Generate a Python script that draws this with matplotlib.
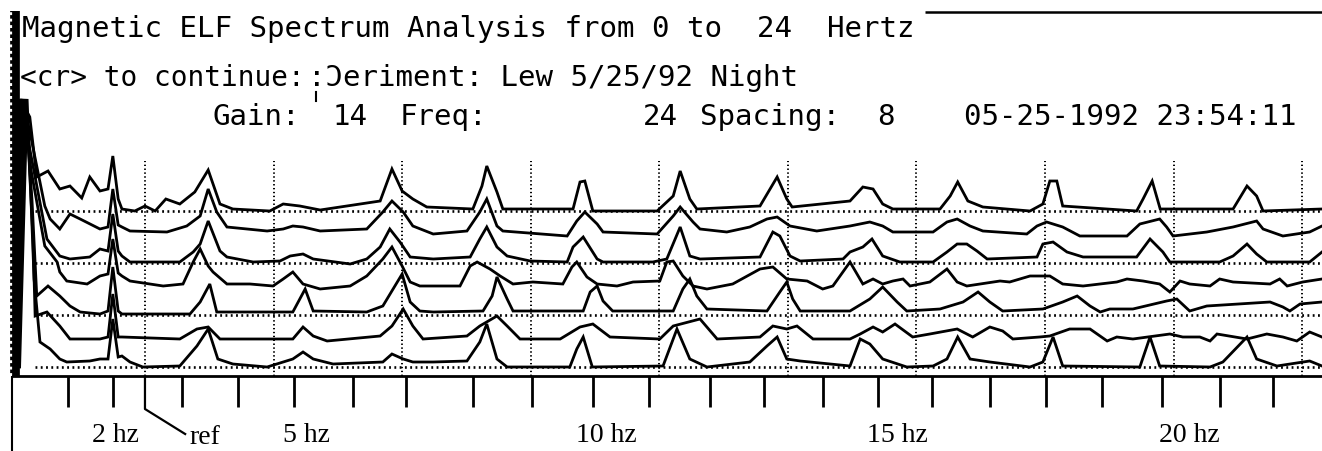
import matplotlib.pyplot as plt

# --- spectra, one list pair per sweep (top sweep first) ---
# frequency in Hz, amplitude in screen counts above the sweep's own baseline
s1_freq = [0.00, 0.07, 0.25, 0.38, 0.59, 0.81, 1.00, 1.22, 1.37, 1.56, 1.71, 1.80, 1.90, 1.97, 2.21, 2.40, 2.59,
           2.79, 3.05, 3.33, 3.58, 3.80, 4.04, 4.73, 4.98, 5.29, 5.67, 6.79, 7.01, 7.20, 7.40, 7.66, 8.52,
           8.69, 8.78, 8.97, 9.08, 10.39, 10.52, 10.61, 10.76, 11.96, 12.26, 12.39, 12.57, 12.70, 13.88,
           14.20, 14.38, 14.48, 15.56, 15.80, 15.99, 16.17, 16.36, 17.24, 17.43, 17.57, 17.76, 18.04, 18.92,
           19.16, 19.29, 19.42, 19.53, 20.91, 21.03, 21.20, 21.35, 22.71, 22.97, 23.15, 23.27, 24.37]
s1_amp = [0, 112, 94, 34, 40, 22, 25, 13, 34, 20, 22, 55, 12, 2, 0, 5, 0,
          12, 7, 19, 41, 7, 2, 0, 7, 5, 1, 10, 42, 20, 12, 4, 2,
          25, 45, 19, 2, 2, 29, 30, 0, 0, 15, 40, 12, 2, 5,
          34, 12, 4, 10, 24, 22, 7, 2, 2, 15, 29, 10, 4, 0,
          7, 30, 30, 5, 0, 12, 30, 2, 2, 25, 15, 0, 2]

s2_freq = [0.01, 0.10, 0.24, 0.53, 0.63, 0.81, 1.00, 1.19, 1.56, 1.71, 1.80, 1.90, 1.97, 2.12, 2.81, 3.18, 3.43,
           3.58, 3.74, 3.93, 4.68, 4.98, 5.16, 5.35, 5.67, 6.54, 6.84, 7.01, 7.22, 7.40, 7.78, 8.41, 8.65,
           8.78, 8.97, 9.08, 10.28, 10.46, 10.61, 10.84, 10.95, 11.96, 12.26, 12.39, 12.63, 12.76, 13.26,
           13.69, 14.01, 14.20, 14.44, 14.94, 15.56, 15.93, 16.17, 16.36, 17.11, 17.37, 17.56, 17.80, 18.04,
           18.86, 19.05, 19.23, 19.53, 19.85, 20.73, 20.97, 21.34, 21.47, 21.59, 22.22, 22.71, 23.15, 23.27,
           23.64, 24.14, 24.37]
s2_amp = [0, 138, 108, 31, 18, 8, 23, 18, 8, 10, 48, 12, 10, 6, 5, 11, 21,
          48, 25, 10, 6, 8, 11, 10, 6, 8, 25, 36, 25, 11, 3, 6, 25,
          38, 11, 6, 1, 16, 25, 13, 5, 3, 21, 30, 15, 8, 5,
          10, 18, 20, 11, 6, 11, 15, 11, 5, 5, 15, 18, 11, 6,
          3, 11, 15, 10, 1, 1, 13, 18, 10, 1, 5, 10, 16, 8,
          1, 5, 11]

s3_freq = [0.02, 0.12, 0.25, 0.57, 0.81, 1.00, 1.37, 1.56, 1.71, 1.80, 1.90, 1.97, 2.12, 3.05, 3.30, 3.43, 3.58,
           3.80, 3.93, 4.42, 4.92, 5.11, 5.35, 5.54, 6.23, 6.54, 6.79, 6.97, 7.16, 7.35, 7.78, 8.47, 8.65,
           8.78, 8.97, 9.16, 9.59, 10.28, 10.39, 10.58, 10.84, 10.95, 11.88, 12.14, 12.39, 12.57, 12.76,
           13.88, 14.12, 14.25, 14.44, 14.63, 15.43, 15.56, 15.80, 15.97, 16.17, 16.49, 17.11, 17.37, 17.56,
           17.74, 17.93, 18.12, 19.05, 19.16, 19.35, 19.61, 19.91, 20.91, 21.16, 21.40, 21.53, 22.46, 22.71,
           22.97, 23.15, 23.34, 24.14, 24.37]
s3_amp = [0, 164, 114, 24, 7, 4, 6, 14, 12, 49, 12, 7, 1, 1, 11, 19, 42,
          12, 6, 1, 2, 7, 9, 4, -1, 4, 16, 34, 21, 6, 4, 6, 24,
          36, 16, 7, 2, 1, 16, 26, 4, 1, 1, 4, 36, 7, 4,
          6, 31, 27, 7, 2, 4, 11, 16, 24, 7, 1, 1, 11, 19,
          19, 12, 4, 6, 19, 21, 11, 6, 6, 24, 11, 1, 1, 7,
          19, 9, 1, 1, 11]

s4_freq = [0.03, 0.14, 0.27, 0.53, 0.76, 0.81, 0.94, 1.32, 1.56, 1.71, 1.80, 1.90, 1.97, 2.12, 2.74, 3.11, 3.30,
           3.43, 3.58, 3.67, 3.93, 4.36, 4.79, 4.98, 5.16, 5.35, 5.67, 6.23, 6.54, 6.84, 7.01, 7.20, 7.35,
           7.53, 8.28, 8.47, 8.60, 8.84, 9.03, 9.27, 9.64, 10.20, 10.37, 10.46, 10.65, 10.84, 11.21, 11.51,
           12.01, 12.14, 12.26, 12.44, 12.63, 12.89, 13.37, 13.88, 14.12, 14.38, 14.76, 15.05, 15.24, 15.56,
           15.80, 15.99, 16.17, 16.36, 16.55, 16.68, 17.05, 17.37, 17.56, 17.74, 18.36, 18.54, 18.92, 19.29,
           19.53, 19.91, 20.54, 20.73, 21.03, 21.34, 21.53, 21.72, 21.90, 22.28, 22.46, 22.71, 23.40, 23.58,
           23.72, 24.01, 24.37]
s4_amp = [0, 190, 120, 43, 27, 17, 8, 5, 13, 15, 50, 16, 13, 8, 3, 5, 27,
          40, 23, 17, 5, 5, 3, 10, 17, 5, 0, 3, 13, 30, 42, 23, 7,
          3, 3, 23, 27, 20, 13, 5, 7, 5, 22, 27, 12, 5, 3, 7,
          8, 27, 28, 13, 3, 0, 5, 20, 22, 10, 8, 0, 3, 27,
          5, 10, 5, 8, 10, 3, 7, 20, 7, 3, 8, 7, 13, 13,
          5, 3, 7, 10, 8, 5, -3, 8, 5, 3, 10, 7, 5, 10,
          3, 7, 10]

s5_freq = [0.04, 0.16, 0.29, 0.38, 0.59, 0.81, 1.00, 1.19, 1.56, 1.71, 1.80, 1.90, 1.97, 3.24, 3.43, 3.61, 3.74,
           5.16, 5.39, 5.54, 6.54, 6.84, 7.20, 7.35, 7.53, 7.78, 8.71, 8.88, 8.97, 9.16, 9.27, 10.58, 10.71,
           10.84, 10.95, 11.13, 12.26, 12.44, 12.57, 12.70, 12.89, 14.01, 14.25, 14.38, 14.49, 14.63, 15.56,
           15.93, 16.17, 16.44, 16.62, 17.24, 17.67, 17.95, 18.17, 18.41, 19.16, 19.53, 19.80, 20.04, 20.23,
           20.41, 20.84, 21.47, 21.66, 21.90, 22.22, 23.40, 23.64, 23.77, 23.96, 24.37]
s5_amp = [0, 216, 116, 19, 29, 19, 9, 3, 1, 4, 48, 4, 1, 1, 13, 31, 3,
          3, 26, 4, 3, 9, 41, 13, 4, 3, 4, 19, 38, 16, 4, 4, 23,
          29, 14, 4, 4, 26, 36, 19, 6, 4, 23, 33, 16, 4, 4,
          16, 28, 13, 4, 6, 13, 23, 13, 4, 6, 13, 19, 9, 3,
          6, 6, 14, 16, 4, 9, 13, 8, 4, 11, 13]

s6_freq = [0.05, 0.18, 0.31, 0.35, 0.57, 0.81, 1.00, 1.56, 1.71, 1.80, 1.90, 1.97, 3.05, 3.37, 3.58, 3.80, 5.16,
           5.35, 5.54, 5.80, 6.79, 7.01, 7.22, 7.40, 7.59, 8.41, 8.65, 8.97, 9.16, 9.40, 10.15, 10.52, 10.76,
           11.08, 12.01, 12.26, 12.76, 13.08, 13.88, 14.12, 14.38, 14.57, 14.87, 15.56, 15.75, 15.99, 16.17,
           16.40, 16.73, 17.05, 17.56, 17.85, 18.17, 18.41, 18.60, 19.10, 19.29, 19.66, 20.04, 20.36, 20.54,
           20.84, 21.53, 21.77, 22.09, 22.28, 22.41, 22.97, 23.34, 23.64, 23.90, 24.14, 24.37]
s6_amp = [0, 242, 102, 25, 29, 15, 2, 2, 4, 47, 4, 4, 2, 12, 14, 2, 2,
          14, 5, 0, 5, 15, 32, 15, 2, 5, 15, 25, 15, 2, 2, 14, 17,
          4, 2, 15, 22, 2, 4, 15, 12, 15, 2, 2, 7, 14, 9,
          17, 4, 7, 12, 4, 14, 10, 2, 4, 5, 12, 12, 0, 4,
          2, 7, 4, 4, 0, 7, 2, 7, 4, 0, 9, 4]

s7_freq = [0.06, 0.20, 0.33, 0.44, 0.63, 0.81, 0.94, 1.37, 1.56, 1.71, 1.80, 1.90, 1.97, 2.12, 2.36, 3.05, 3.37,
           3.58, 3.76, 4.04, 4.68, 5.16, 5.35, 5.54, 5.91, 6.84, 7.01, 7.22, 7.40, 7.78, 8.41, 8.65, 8.78,
           8.97, 9.16, 10.33, 10.46, 10.58, 10.75, 12.07, 12.33, 12.57, 12.89, 13.69, 14.01, 14.20, 14.38,
           14.63, 15.56, 15.75, 15.93, 16.17, 16.62, 17.11, 17.37, 17.57, 17.80, 18.17, 18.92, 19.16, 19.35,
           19.53, 20.97, 21.16, 21.34, 22.28, 22.52, 22.97, 23.15, 23.53, 24.14, 24.37]
s7_amp = [0, 268, 88, 25, 18, 8, 5, 6, 8, 8, 48, 10, 11, 5, 0, 1, 21,
          38, 8, 3, 0, 8, 15, 8, 3, 5, 13, 8, 5, 5, 6, 25, 43,
          8, 0, 0, 18, 30, 0, 1, 38, 8, 0, 5, 21, 30, 8,
          6, 1, 28, 23, 8, 0, 1, 8, 30, 8, 5, 0, 5, 30,
          1, 0, 30, 1, 0, 5, 30, 8, 1, 6, 1]

sweeps = [(s1_freq, s1_amp), (s2_freq, s2_amp), (s3_freq, s3_amp), (s4_freq, s4_amp),
          (s5_freq, s5_amp), (s6_freq, s6_amp), (s7_freq, s7_amp)]
sweep_offsets = [165, 139, 113, 87, 61, 35, 9]   # waterfall baselines, top to bottom

# dotted grid every 2.4 Hz (24 Hz / 10)
grid_freqs = [2.4, 4.8, 7.2, 9.6, 12.0, 14.4, 16.8, 19.2, 21.6, 24.0]

# hand-drawn ruler under the plot
ruler_ticks = [0.96, 1.80, 3.09, 4.14, 5.18, 6.28, 7.27, 8.52, 9.62, 10.76, 11.81, 12.95, 13.95,
               15.06, 16.08, 17.09, 18.17, 19.22, 20.26, 21.38, 22.47, 23.45]
ruler_labels = ['2 hz', '5 hz', '10 hz', '15 hz', '20 hz']
ruler_label_pos = [1.84, 5.42, 11.02, 16.44, 21.89]
ref_freq = 2.4

W, H = 1322, 452
fig = plt.figure(figsize=(W / 100, H / 100), dpi=100)
ax = fig.add_axes([0, 0, 1, 1])
ax.set_xlim(-0.306, 24.37)
ax.set_ylim(-75, 377)
ax.axis('off')

dots = (0, (0.7, 1.3))

# grid
ax.vlines(grid_freqs, 0, 215, colors='black', linestyles=dots, lw=1.4)
ax.hlines(sweep_offsets[0::2], 0.35, 24.37, colors='black', linestyles=dots, lw=1.9)

# spectra
for (f, a), off in zip(sweeps, sweep_offsets):
    ax.plot(f, [v + off for v in a], color='black', lw=2.0, solid_joinstyle='miter')

# frame: striped left bar, baseline, top line
ax.vlines(-0.02, 0, 365, colors='black', lw=7)
ax.vlines(-0.11, 0, 365, colors='white', lw=1.6, linestyles=(0, (1.3, 1.6)))
ax.hlines(0, -0.08, 24.37, colors='black', lw=2)
ax.vlines(-0.08, -75, 0, colors='black', lw=1.5)
ax.hlines(364, 16.96, 24.37, colors='black', lw=1.8)

# ruler
ax.vlines(ruler_ticks, -31, 0, colors='black', lw=2)
ax.plot([ref_freq, ref_freq, 3.15], [0, -33, -58], color='black', lw=1.6)
for lab, pos in zip(ruler_labels, ruler_label_pos):
    ax.text(pos, -65, lab, ha='center', va='baseline', family='Liberation Serif', fontsize=20)
ax.text(3.24, -67, 'ref', ha='left', va='baseline', family='Liberation Serif', fontsize=20)


# header text, placed in screen pixels
def put(x, y, s, size=21, **kw):
    fig.text(x / W, 1 - y / H, s, va='baseline', family='DejaVu Sans Mono', fontsize=size, **kw)


put(22, 37, 'Magnetic ELF Spectrum Analysis from 0 to  24  Hertz')
put(20, 86, '<cr> to continue:', size=20)
put(308, 86, ':\u0186eriment: Lew 5/25/92 Night')
put(213, 125, 'Gain:')
put(333, 125, '14')
put(400, 125, 'Freq:')
put(643, 125, '24')
put(700, 125, 'Spacing:')
put(877, 125, '8')
put(1297, 125, '05-25-1992 23:54:11', ha='right')
# stray cursor mark left on screen
fig.add_artist(plt.Line2D([316 / W, 316 / W], [1 - 93 / H, 1 - 102 / H], color='black', lw=1.5))

fig.savefig('out.png', dpi=100)
